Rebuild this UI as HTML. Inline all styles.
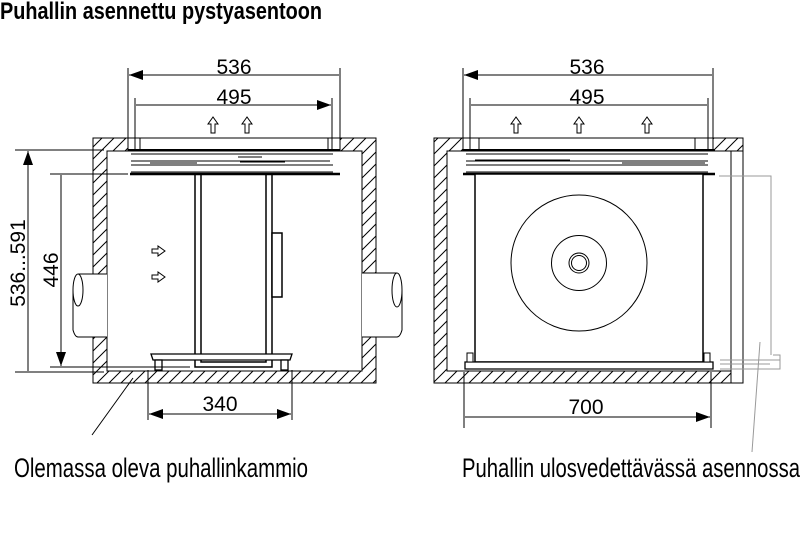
<!DOCTYPE html>
<html><head><meta charset="utf-8"><style>
html,body{margin:0;padding:0;background:#fff;}
svg{display:block}
text{font-family:"Liberation Sans",sans-serif;fill:#000}
</style></head><body>
<svg width="800" height="542" viewBox="0 0 800 542" xmlns="http://www.w3.org/2000/svg">
<defs>
<pattern id="h" width="12" height="12" patternUnits="userSpaceOnUse">
<path d="M-3,15 L15,-3 M-3,3 L3,-3 M9,15 L15,9" stroke="#000" stroke-width="1"/>
</pattern>
<marker id="a" viewBox="0 0 14 10" refX="14" refY="5" markerWidth="14" markerHeight="10" markerUnits="userSpaceOnUse" orient="auto-start-reverse">
<path d="M0,0 L14,5 L0,10 z" fill="#000"/>
</marker>
</defs>

<text x="0" y="19" font-size="24" font-weight="bold" textLength="322" lengthAdjust="spacingAndGlyphs">Puhallin asennettu pystyasentoon</text>

<!-- LEFT DRAWING -->
<g stroke="#000" fill="none" stroke-width="1">
<path d="M93,138 H376 V383 H93 Z M107,151 V371 H362 V151 Z" fill="url(#h)" fill-rule="evenodd"/>
<rect x="128" y="138" width="212" height="13" fill="#fff"/>
<rect x="128" y="138" width="12" height="13" fill="#fff"/>
<rect x="328" y="138" width="12" height="13" fill="#fff"/>
<rect x="73" y="274" width="34" height="63" fill="#fff" stroke="none"/>
<path d="M107,274 H78 M107,337 H78"/>
<ellipse cx="78" cy="290" rx="5" ry="16" fill="#fff"/>
<path d="M73,290 V330 Q75,337 78,337"/>
<rect x="362" y="273" width="40" height="64" fill="#fff" stroke="none"/>
<path d="M362,273 H397 M362,337 H397"/>
<ellipse cx="397" cy="290" rx="5" ry="17" fill="#fff"/>
<path d="M402,290 V330 Q400,337 397,337"/>
<path d="M128,150 H340" stroke-width="2"/>
<path d="M131,154 H333 M131,161 H330 M131,165 H333 M131,172 H333"/>
<path d="M130,174 H340" stroke-width="2.5"/>
<path d="M128,174 H118" />
<path d="M238,157 H262 M150,163 H197 M240,162 H285" stroke-width="1"/>
<path d="M195,174 V367 H272 V174 M201,174 V362 H266 V174" stroke-width="1.5"/>
<rect x="272" y="233" width="10" height="64" stroke-width="1.5" fill="#fff"/>
<path d="M151,354 H292 L290,360 H153 Z" fill="#fff" stroke-width="1.3"/>
<rect x="155" y="360" width="7" height="10" stroke-width="1.3" fill="#fff"/>
<rect x="281" y="360" width="7" height="10" stroke-width="1.3" fill="#fff"/>
<path d="M128,68 V150 M340,68 V150 M135,98 V150 M332,98 V150"/>
<path d="M129,75 H339 M136,105 H331" marker-start="url(#a)" marker-end="url(#a)"/>
<path d="M15,150 H104 M15,372 H104 M50,174 H118 M50,367 H190"/>
<path d="M28,151 V371 M61,175 V366" marker-start="url(#a)" marker-end="url(#a)"/>
<path d="M148,370 V420 M292,370 V420"/>
<path d="M149,414 H291" marker-start="url(#a)" marker-end="url(#a)"/>
<path d="M92,435 L133,378"/>
<path d="M213,117 L208,124 H211 V133 H215 V124 H218 Z"/>
<path d="M247,117 L242,124 H245 V133 H249 V124 H252 Z"/>
<path d="M165,251 L158,246 V249 H152 V253 H158 V256 Z"/>
<path d="M165,277 L158,272 V275 H152 V279 H158 V282 Z"/>
<path d="M516,117 L511,124 H514 V133 H518 V124 H521 Z"/>
<path d="M579,117 L574,124 H577 V133 H581 V124 H584 Z"/>
<path d="M647,117 L642,124 H645 V133 H649 V124 H652 Z"/>
</g>
<text x="234" y="74" font-size="21" text-anchor="middle">536</text>
<text x="234" y="104" font-size="21" text-anchor="middle">495</text>
<text x="220" y="411" font-size="21" text-anchor="middle">340</text>
<text transform="translate(25,263) rotate(-90)" font-size="21" text-anchor="middle">536...591</text>
<text transform="translate(58,270) rotate(-90)" font-size="21" text-anchor="middle">446</text>

<!-- RIGHT DRAWING -->
<g stroke="#000" fill="none" stroke-width="1">
<path d="M434,138 H743 V383 H434 Z M447,151 V371 H732 V151 Z" fill="url(#h)" fill-rule="evenodd"/>
<rect x="731" y="151" width="12" height="232" fill="#fff"/>
<rect x="463" y="138" width="250" height="13" fill="#fff"/>
<rect x="463" y="138" width="16" height="13" fill="#fff"/>
<rect x="695" y="138" width="18" height="13" fill="#fff"/>
<path d="M463,150 H715" stroke-width="2"/>
<path d="M466,154 H708 M466,161 H708 M466,165 H708 M466,172 H708"/>
<path d="M463,174 H715" stroke-width="2.5"/>
<path d="M475,160 H570 M622,163 H705"/>
<rect x="475" y="174" width="228" height="188" stroke-width="1.5" fill="#fff"/>
<circle cx="579" cy="263" r="68"/>
<circle cx="579" cy="263" r="27.5"/>
<circle cx="579" cy="263" r="10"/>
<circle cx="579" cy="263" r="7.5"/>
<path d="M465,362 H713 V369 H465 Z" stroke-width="1.3" fill="#fff"/>
<rect x="467" y="353" width="6" height="9" fill="#fff"/>
<rect x="704" y="353" width="6" height="9" fill="#fff"/>
<path d="M464,372 V428 M711,372 V428 M463,68 V150 M713,68 V150 M470,98 V150 M708,98 V150"/>
<path d="M464,75 H712 M471,105 H707 M465,417 H710" marker-start="url(#a)" marker-end="url(#a)"/>
</g>
<g stroke="#999" fill="none" stroke-width="1">
<path d="M719,176 H771 V355"/>
<path d="M720,360 H780 M720,364 H770 M720,369 H780 V355 H773"/>
<path d="M760,342 L752,452"/>
</g>
<text x="587" y="74" font-size="21" text-anchor="middle">536</text>
<text x="587" y="104" font-size="21" text-anchor="middle">495</text>
<text x="586" y="414" font-size="21" text-anchor="middle">700</text>

<text x="14" y="477" font-size="27" textLength="294" lengthAdjust="spacingAndGlyphs">Olemassa oleva puhallinkammio</text>
<text x="462" y="477" font-size="27" textLength="338" lengthAdjust="spacingAndGlyphs">Puhallin ulosvedettävässä asennossa</text>
</svg>
</body></html>
